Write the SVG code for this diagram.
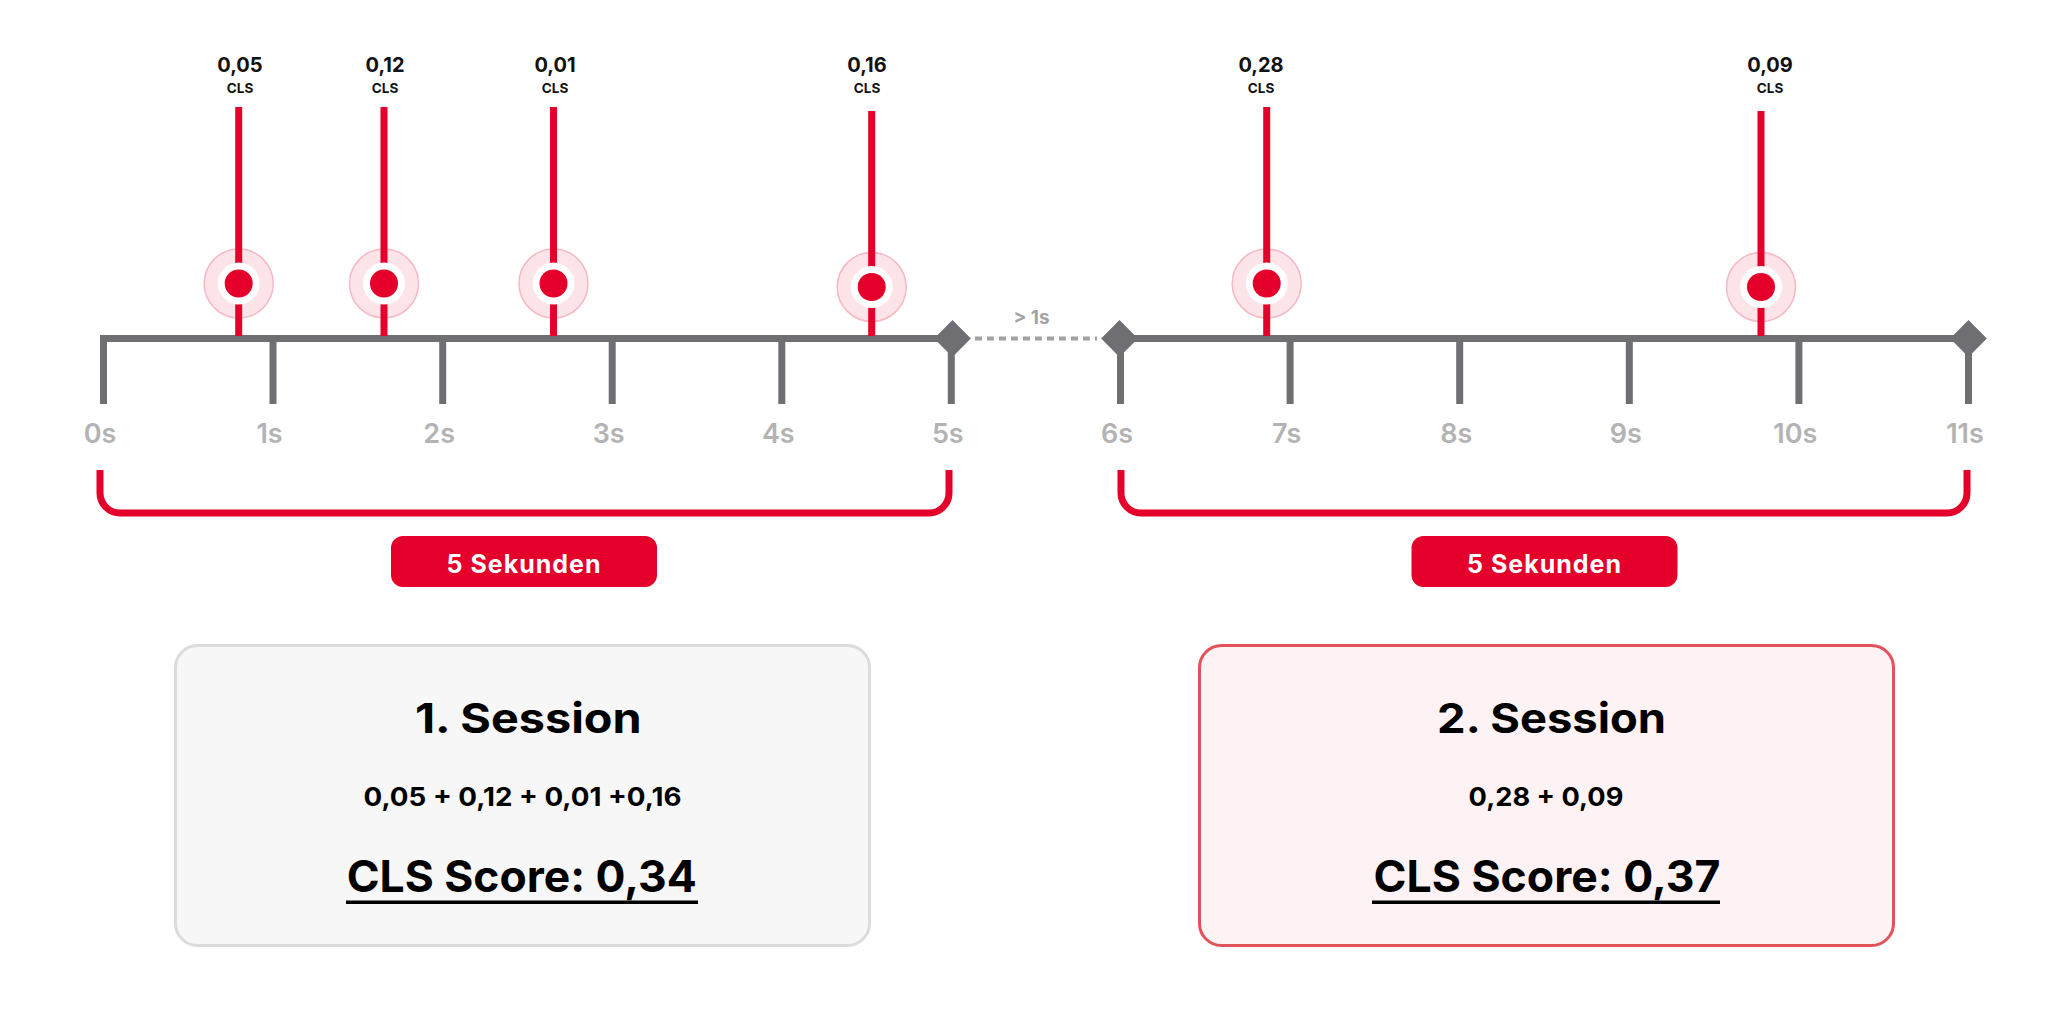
<svg xmlns="http://www.w3.org/2000/svg" width="2048" height="1024" viewBox="0 0 2048 1024">
<style>
.axis{fill:none;stroke:#6f6e73;stroke-width:7;stroke-linejoin:miter}
.tick{stroke:#6f6e73;stroke-width:7}
.tl{font-family:Inter,"Liberation Sans",sans-serif;font-weight:600;font-size:27px;fill:#b3b3b3;text-anchor:middle}
.val{font-family:Inter,"Liberation Sans",sans-serif;font-weight:700;font-size:20px;fill:#111;text-anchor:middle}
.cls{font-family:Inter,"Liberation Sans",sans-serif;font-weight:700;font-size:13.5px;fill:#111;text-anchor:middle}
.stem{stroke:#e4002b;stroke-width:7}
.halo{fill:#fde4e8;stroke:#f6b9c3;stroke-width:1.5}
.ring{fill:#fff}
.dot{fill:#e4002b}
.brk{fill:none;stroke:#e4002b;stroke-width:7}
.pill{fill:#e4002b}
.pt{font-family:Inter,"Liberation Sans",sans-serif;font-weight:700;font-size:25px;fill:#fff;text-anchor:middle;letter-spacing:1px}
.h{font-family:Inter,"Liberation Sans",sans-serif;font-weight:700;font-size:41px;fill:#000;text-anchor:middle}
.s{font-family:Inter,"Liberation Sans",sans-serif;font-weight:700;font-size:44px;fill:#000;text-anchor:middle}
.f{font-family:Inter,"Liberation Sans",sans-serif;font-weight:700;font-size:26px;fill:#000;text-anchor:middle}
.ul{stroke:#000;stroke-width:3.5}
.dia{fill:#6f6e73}
</style>

<g id="timeline">
  <path class="axis" d="M103.5 404 V338.5 H951"/>
  <path class="axis" d="M1968.5 404 V338.5 H1120.5 V404"/>
  <line class="tick" x1="273" y1="338" x2="273" y2="404"/>
  <line class="tick" x1="442.7" y1="338" x2="442.7" y2="404"/>
  <line class="tick" x1="612.2" y1="338" x2="612.2" y2="404"/>
  <line class="tick" x1="781.8" y1="338" x2="781.8" y2="404"/>
  <line class="tick" x1="951.3" y1="338" x2="951.3" y2="404"/>
  <line class="tick" x1="1290.1" y1="338" x2="1290.1" y2="404"/>
  <line class="tick" x1="1459.7" y1="338" x2="1459.7" y2="404"/>
  <line class="tick" x1="1629.3" y1="338" x2="1629.3" y2="404"/>
  <line class="tick" x1="1798.9" y1="338" x2="1798.9" y2="404"/>
  <rect class="dia" x="-13" y="-13" width="26" height="26" transform="translate(952.5 338.5) rotate(45)"/>
  <rect class="dia" x="-13" y="-13" width="26" height="26" transform="translate(1119.5 338.5) rotate(45)"/>
  <rect class="dia" x="-13" y="-13" width="26" height="26" transform="translate(1968.5 338.5) rotate(45)"/>
  <text class="tl" x="100" y="443">0s</text>
  <text class="tl" x="269.5" y="443">1s</text>
  <text class="tl" x="439.2" y="443">2s</text>
  <text class="tl" x="608.7" y="443">3s</text>
  <text class="tl" x="778.3" y="443">4s</text>
  <text class="tl" x="947.8" y="443">5s</text>
  <text class="tl" x="1117" y="443">6s</text>
  <text class="tl" x="1286.6" y="443">7s</text>
  <text class="tl" x="1456.2" y="443">8s</text>
  <text class="tl" x="1625.8" y="443">9s</text>
  <text class="tl" x="1795.4" y="443">10s</text>
  <text class="tl" x="1965" y="443">11s</text>
</g>

<g id="connectors">
  <line x1="975" y1="338.5" x2="1097" y2="338.5" stroke="#a3a3a3" stroke-width="4" stroke-dasharray="7 5"/>
  <text x="1031.5" y="324" font-family="Inter,'Liberation Sans',sans-serif" font-weight="700" font-size="19px" fill="#a3a3a3" text-anchor="middle">&gt; 1s</text>
  <path class="brk" d="M100 470 V493 A20 20 0 0 0 120 513 H929 A20 20 0 0 0 949 493 V470"/>
  <path class="brk" d="M1121 470 V493 A20 20 0 0 0 1141 513 H1947 A20 20 0 0 0 1967 493 V470"/>
</g>

<g id="event-1">
  <text class="val" x="240" y="72">0,05</text>
  <text class="cls" x="240" y="93">CLS</text>
  <circle class="halo" cx="238.7" cy="283.5" r="34.5"/>
  <line class="stem" x1="238.7" y1="107" x2="238.7" y2="336"/>
  <circle class="ring" cx="238.7" cy="283.5" r="21"/>
  <circle class="dot" cx="238.7" cy="283.5" r="14"/>
</g>
<g id="event-2">
  <text class="val" x="385" y="72">0,12</text>
  <text class="cls" x="385" y="93">CLS</text>
  <circle class="halo" cx="384" cy="283.5" r="34.5"/>
  <line class="stem" x1="384" y1="107" x2="384" y2="336"/>
  <circle class="ring" cx="384" cy="283.5" r="21"/>
  <circle class="dot" cx="384" cy="283.5" r="14"/>
</g>
<g id="event-3">
  <text class="val" x="555" y="72">0,01</text>
  <text class="cls" x="555" y="93">CLS</text>
  <circle class="halo" cx="553.5" cy="283.5" r="34.5"/>
  <line class="stem" x1="553.5" y1="107" x2="553.5" y2="336"/>
  <circle class="ring" cx="553.5" cy="283.5" r="21"/>
  <circle class="dot" cx="553.5" cy="283.5" r="14"/>
</g>
<g id="event-4">
  <text class="val" x="867" y="72">0,16</text>
  <text class="cls" x="867" y="93">CLS</text>
  <circle class="halo" cx="871.7" cy="287" r="34.5"/>
  <line class="stem" x1="871.7" y1="111" x2="871.7" y2="336"/>
  <circle class="ring" cx="871.7" cy="287" r="21"/>
  <circle class="dot" cx="871.7" cy="287" r="14"/>
</g>
<g id="event-5">
  <text class="val" x="1261" y="72">0,28</text>
  <text class="cls" x="1261" y="93">CLS</text>
  <circle class="halo" cx="1266.7" cy="283.5" r="34.5"/>
  <line class="stem" x1="1266.7" y1="107" x2="1266.7" y2="336"/>
  <circle class="ring" cx="1266.7" cy="283.5" r="21"/>
  <circle class="dot" cx="1266.7" cy="283.5" r="14"/>
</g>
<g id="event-6">
  <text class="val" x="1770" y="72">0,09</text>
  <text class="cls" x="1770" y="93">CLS</text>
  <circle class="halo" cx="1761" cy="287" r="34.5"/>
  <line class="stem" x1="1761" y1="111" x2="1761" y2="336"/>
  <circle class="ring" cx="1761" cy="287" r="21"/>
  <circle class="dot" cx="1761" cy="287" r="14"/>
</g>

<g id="pill-1">
  <rect class="pill" x="391" y="536" width="266" height="51" rx="12"/>
  <text class="pt" x="524" y="572.5">5 Sekunden</text>
</g>
<g id="pill-2">
  <rect class="pill" x="1411.5" y="536" width="266" height="51" rx="12"/>
  <text class="pt" x="1544.5" y="572.5">5 Sekunden</text>
</g>

<g id="session-1">
  <rect x="175.5" y="645.5" width="694" height="300" rx="22" fill="#f7f7f7" stroke="#dcdcdc" stroke-width="3"/>
  <text class="h" x="528.3" y="733" textLength="226.7" lengthAdjust="spacingAndGlyphs">1. Session</text>
  <text class="f" x="522.5" y="806" textLength="318" lengthAdjust="spacingAndGlyphs">0,05 + 0,12 + 0,01 +0,16</text>
  <text class="s" x="521.7" y="892" textLength="350" lengthAdjust="spacingAndGlyphs">CLS Score: 0,34</text>
  <line class="ul" x1="346" y1="902.3" x2="698" y2="902.3"/>
</g>
<g id="session-2">
  <rect x="1199.5" y="645.5" width="694" height="300" rx="22" fill="#fdf3f4" stroke="#e2525b" stroke-width="3"/>
  <text class="h" x="1551.6" y="733" textLength="229" lengthAdjust="spacingAndGlyphs">2. Session</text>
  <text class="f" x="1546" y="806" textLength="154.8" lengthAdjust="spacingAndGlyphs">0,28 + 0,09</text>
  <text class="s" x="1547" y="892" textLength="347" lengthAdjust="spacingAndGlyphs">CLS Score: 0,37</text>
  <line class="ul" x1="1372" y1="902.3" x2="1720" y2="902.3"/>
</g>
</svg>
